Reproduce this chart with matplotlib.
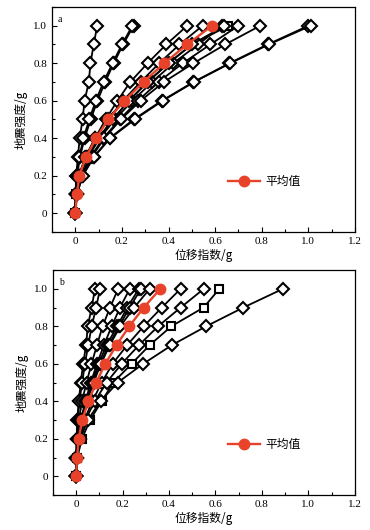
import numpy as np
import matplotlib
matplotlib.use('Agg')
import matplotlib.pyplot as plt
from matplotlib.ticker import MultipleLocator, FuncFormatter

plt.rcParams['font.family'] = ['Liberation Serif', 'Noto Sans CJK SC', 'DejaVu Sans']

# seismic intensity levels (g)
levels = [0, 0.1, 0.2, 0.3, 0.4, 0.5, 0.6, 0.7, 0.8, 0.9, 1.0]

# panel a: displacement index per record
a_series = [
    [0, 0.001, 0.004, 0.011, 0.019, 0.031, 0.040, 0.058, 0.065, 0.079, 0.094],
    [0, 0.002, 0.008, 0.020, 0.040, 0.066, 0.095, 0.128, 0.165, 0.205, 0.250],
    [0, 0.002, 0.006, 0.017, 0.035, 0.060, 0.088, 0.121, 0.160, 0.200, 0.245],
    [0, 0.003, 0.015, 0.045, 0.085, 0.130, 0.181, 0.236, 0.310, 0.390, 0.480],
    [0, 0.004, 0.015, 0.043, 0.085, 0.140, 0.205, 0.280, 0.360, 0.447, 0.546],
    [0, 0.005, 0.020, 0.055, 0.105, 0.170, 0.245, 0.330, 0.420, 0.527, 0.630],
    [0, 0.004, 0.018, 0.050, 0.100, 0.160, 0.230, 0.310, 0.400, 0.500, 0.640],
    [0, 0.006, 0.025, 0.065, 0.120, 0.190, 0.269, 0.357, 0.461, 0.579, 0.700],
    [0, 0.006, 0.028, 0.070, 0.125, 0.195, 0.280, 0.380, 0.507, 0.643, 0.793],
    [0, 0.006, 0.030, 0.079, 0.147, 0.250, 0.371, 0.507, 0.661, 0.825, 1.000],
    [0, 0.007, 0.032, 0.080, 0.150, 0.255, 0.375, 0.510, 0.665, 0.830, 1.010],
]
a_square = [0, 0.004, 0.018, 0.050, 0.100, 0.160, 0.230, 0.310, 0.400, 0.500, 0.657]
a_mean = [0, 0.007, 0.017, 0.046, 0.089, 0.141, 0.211, 0.293, 0.381, 0.480, 0.586]

# panel b
b_series = [
    [0, 0.000, 0.002, 0.005, 0.011, 0.020, 0.030, 0.043, 0.050, 0.067, 0.081],
    [0, 0.000, 0.003, 0.007, 0.014, 0.026, 0.038, 0.052, 0.067, 0.086, 0.103],
    [0, 0.001, 0.005, 0.012, 0.025, 0.045, 0.066, 0.090, 0.114, 0.146, 0.181],
    [0, 0.001, 0.007, 0.020, 0.040, 0.063, 0.090, 0.120, 0.153, 0.189, 0.231],
    [0, 0.001, 0.008, 0.022, 0.043, 0.068, 0.097, 0.131, 0.177, 0.220, 0.270],
    [0, 0.001, 0.009, 0.024, 0.046, 0.072, 0.104, 0.140, 0.185, 0.230, 0.280],
    [0, 0.001, 0.010, 0.025, 0.048, 0.075, 0.107, 0.145, 0.190, 0.250, 0.317],
    [0, 0.003, 0.013, 0.035, 0.070, 0.110, 0.157, 0.220, 0.291, 0.369, 0.450],
    [0, 0.003, 0.015, 0.040, 0.080, 0.131, 0.196, 0.271, 0.353, 0.450, 0.550],
    [0, 0.004, 0.018, 0.050, 0.105, 0.179, 0.289, 0.413, 0.560, 0.720, 0.891],
]
b_square = [0, 0.005, 0.025, 0.060, 0.110, 0.160, 0.239, 0.317, 0.410, 0.549, 0.617]
b_mean = [0, 0.004, 0.011, 0.026, 0.053, 0.086, 0.126, 0.174, 0.229, 0.291, 0.363]

RED = '#e8432a'
CJK = ['Noto Sans CJK SC', 'Liberation Serif']


def draw(ax, series, square, mean, tag):
    # square-marker record sits under the diamonds
    ax.plot(square, levels, color='black', lw=1.3, marker='s', ms=5.5,
            mfc='white', mec='black', mew=1.5, zorder=1)
    for s in series:
        ax.plot(s, levels, color='black', lw=1.3, marker='D', ms=6.3,
                mfc='white', mec='black', mew=1.5, zorder=2)
    ax.plot(mean, levels, color=RED, lw=1.7, marker='o', ms=7.5,
            mfc=RED, mec=RED, zorder=3, label='平均值')

    ax.set_xlim(-0.1, 1.2)
    ax.set_ylim(-0.1, 1.1)
    ax.xaxis.set_major_locator(MultipleLocator(0.2))
    ax.xaxis.set_minor_locator(MultipleLocator(0.1))
    ax.yaxis.set_minor_locator(MultipleLocator(0.1))
    ax.set_yticks([0, 0.2, 0.4, 0.6, 0.8, 1.0])
    fmt = FuncFormatter(lambda v, p: '0' if abs(v) < 1e-9 else '%.1f' % v)
    ax.xaxis.set_major_formatter(fmt)
    ax.yaxis.set_major_formatter(fmt)
    ax.tick_params(which='both', direction='in', labelsize=8, width=0.8)
    ax.tick_params(which='major', length=3.5)
    ax.tick_params(which='minor', length=2)
    for sp in ax.spines.values():
        sp.set_linewidth(0.9)

    ax.set_xlabel('位移指数/g', fontsize=8.5, family=CJK, labelpad=2)
    ax.set_ylabel('地震强度/g', fontsize=8.5, family=CJK, labelpad=4)
    ax.text(0.02, 0.965, tag, transform=ax.transAxes, fontsize=7,
            ha='left', va='top')
    ax.legend(loc='center left', bbox_to_anchor=(0.545, 0.226), frameon=False,
              handlelength=2.7, handletextpad=0.45,
              prop={'family': CJK, 'size': 8.5})


fig = plt.figure(figsize=(3.7, 5.3), dpi=100)
ax1 = fig.add_axes([0.1405, 0.5623, 0.819, 0.4245])
ax2 = fig.add_axes([0.143, 0.066, 0.816, 0.4245])

draw(ax1, a_series, a_square, a_mean, 'a')
draw(ax2, b_series, b_square, b_mean, 'b')

fig.savefig('out.png', dpi=100)
